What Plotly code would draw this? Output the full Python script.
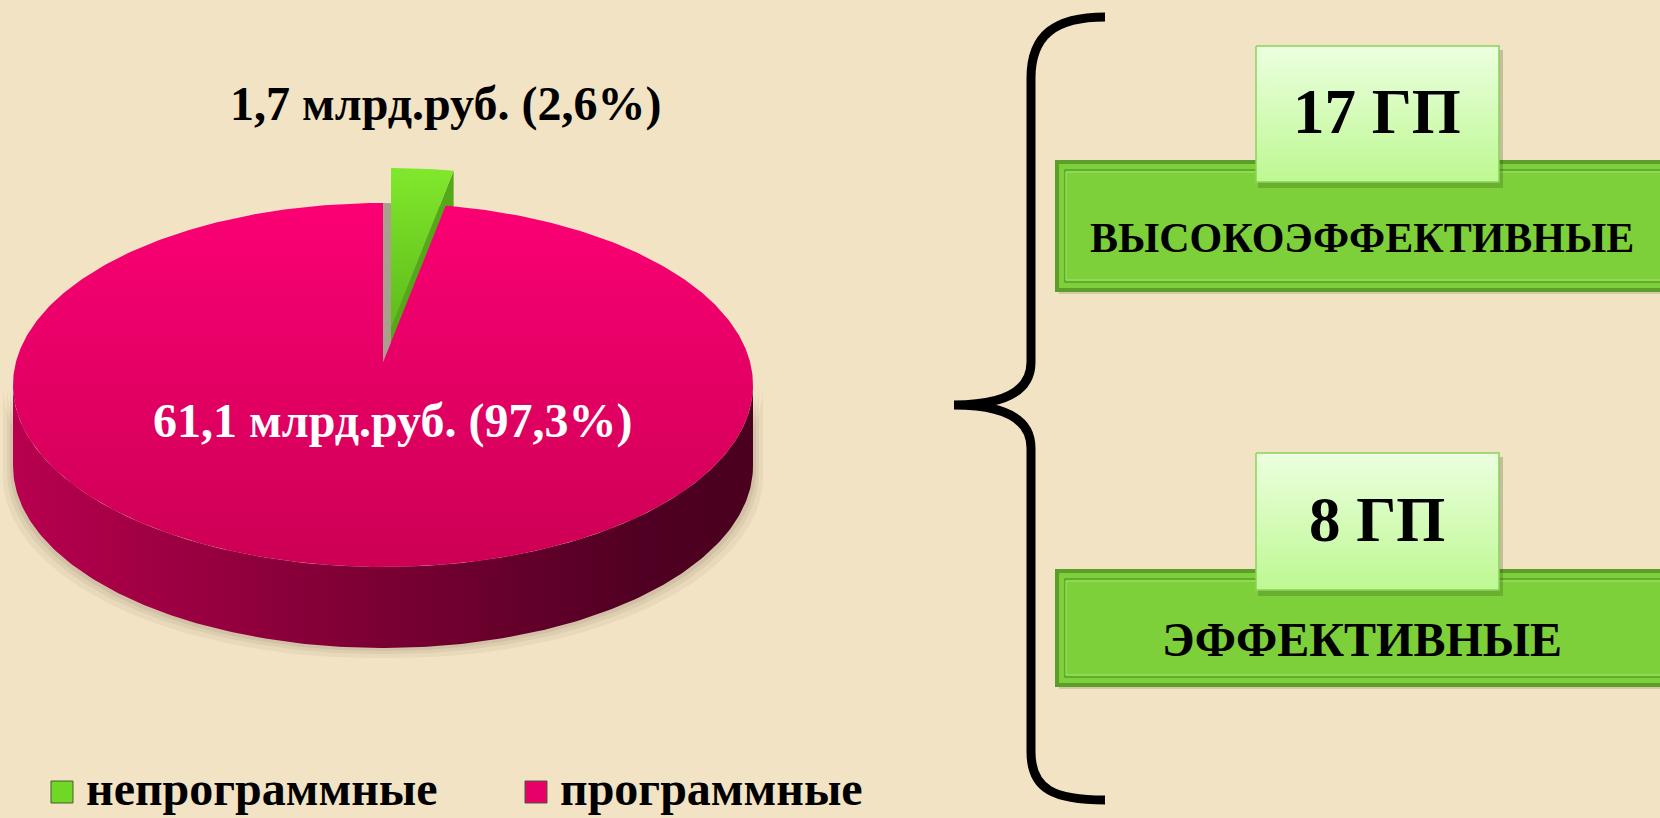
import numpy as np
import plotly.graph_objects as go

# ---------------- data ----------------
categories = ["непрограммные", "программные"]
values_bn = [1.7, 61.1]          # млрд.руб.
shares_pct = [2.6, 97.3]         # %
slice_colors_top = [["#80e82c", "#5fbb1a"], ["#fb0074", "#cc0054"]]
slice_wall_colors = ["#55a817", "#9c0044"]
legend_colors = ["#6fd824", "#e8006a"]

gp_counts = [17, 8]
gp_labels = ["ВЫСОКОЭФФЕКТИВНЫЕ", "ЭФФЕКТИВНЫЕ"]
gp_label_sizes = [42, 48]

# ---------------- geometry (pixels) ----------------
W, H = 1660, 818
CX, CYE = 383, 385      # centre of projected ellipse
A, B = 370, 182         # semi-axes
APEX_Y = 362            # projected pie centre
DEPTH = 81
EXPLODE = [(8, -35), (0, 0)]
LEGEND_X = [51, 525]
LEGEND_Y = 792

FONT = "Liberation Serif"


def rim(theta_deg):
    t = np.radians(theta_deg)
    return CX + A * np.sin(t), CYE - B * np.cos(t)


def vgrad(top, bottom):
    # y axis is reversed: scale position 0 is the bottom of the shape on screen
    return dict(type="vertical", colorscale=[[0, bottom], [1, top]])


fig = go.Figure()

total = sum(values_bn)
angles = np.concatenate([[0], np.cumsum(values_bn) / total * 360.0])

# soft shadow under the pie
for k, op in [(10, 0.05), (6, 0.06), (3, 0.07)]:
    th = np.linspace(90, 270, 200)
    xs, ys = rim(th)
    fig.add_trace(go.Scatter(
        x=list(xs + np.sign(xs - CX) * k) + list((xs + np.sign(xs - CX) * k)[::-1]),
        y=list(ys) + list((ys + DEPTH + k)[::-1]),
        fill="toself", fillcolor="rgba(60,40,20,%.2f)" % op, line=dict(width=0),
        mode="lines", hoverinfo="skip", showlegend=False))

# grey inner gap of the exploded slice
g0, g1 = angles[0], angles[1]
xs, ys = rim(np.linspace(g0, g1, 30))
fig.add_trace(go.Scatter(
    x=[CX] + list(xs) + [CX], y=[APEX_Y] + list(ys) + [APEX_Y],
    fill="toself", fillcolor="#a89f8c", line=dict(width=0),
    mode="lines", hoverinfo="skip", showlegend=False))

# green slice wall and face
dx, dy = EXPLODE[0]
xr, yr = rim(g1)
fig.add_trace(go.Scatter(
    x=[CX + dx, xr + dx, xr + dx, CX + dx, CX + dx],
    y=[APEX_Y + dy, yr + dy, yr + dy + DEPTH, APEX_Y + dy + DEPTH, APEX_Y + dy],
    fill="toself", fillcolor=slice_wall_colors[0], line=dict(width=0),
    mode="lines", hoverinfo="skip", showlegend=False))
xs, ys = rim(np.linspace(g0, g1, 30))
fig.add_trace(go.Scatter(
    x=[CX + dx] + list(xs + dx) + [CX + dx],
    y=[APEX_Y + dy] + list(ys + dy) + [APEX_Y + dy],
    fill="toself", fillgradient=vgrad(*slice_colors_top[0]),
    line=dict(width=0), mode="lines", hoverinfo="skip", showlegend=False))

# pink slice side (front half)
th = np.linspace(90, 270, 200)
xs, ys = rim(th)
fig.add_trace(go.Scatter(
    x=list(xs) + list(xs[::-1]) + [xs[0]],
    y=list(ys) + list((ys + DEPTH)[::-1]) + [ys[0]],
    fill="toself",
    fillgradient=dict(type="horizontal",
                      colorscale=[[0, "#b8004f"], [0.35, "#8c003a"], [0.85, "#500022"], [1, "#4a001f"]]),
    line=dict(width=0), mode="lines", hoverinfo="skip", showlegend=False))

# pink slice top face
p0, p1 = angles[1], angles[2]
xs, ys = rim(np.linspace(p0, p1, 500))
fig.add_trace(go.Scatter(
    x=[CX] + list(xs) + [CX], y=[APEX_Y] + list(ys) + [APEX_Y],
    fill="toself", fillgradient=vgrad(*slice_colors_top[1]),
    line=dict(width=0), mode="lines", hoverinfo="skip", showlegend=False))


def fmt(v):
    return ("%.1f" % v).replace(".", ",")


# data labels
fig.add_annotation(x=445, y=104, xref="x", yref="y", showarrow=False,
                   text="<b>%s млрд.руб. (%s%%)</b>" % (fmt(values_bn[0]), fmt(shares_pct[0])),
                   font=dict(family=FONT, size=48, color="black"))
fig.add_annotation(x=392, y=421, xref="x", yref="y", showarrow=False,
                   text="<b>%s млрд.руб. (%s%%)</b>" % (fmt(values_bn[1]), fmt(shares_pct[1])),
                   font=dict(family=FONT, size=48, color="white"))

# legend (squares + labels)
for name, col, lx in zip(categories, legend_colors, LEGEND_X):
    fig.add_shape(type="rect", xref="x", yref="y", x0=lx, x1=lx + 22,
                  y0=LEGEND_Y - 11, y1=LEGEND_Y + 11,
                  fillcolor=col, line=dict(color="#4a5a30", width=1))
    fig.add_annotation(x=lx + 33, y=H - 1, xref="x", yref="y", showarrow=False,
                       xanchor="left", yanchor="bottom", text="<b>%s</b>" % name,
                       font=dict(family=FONT, size=48, color="black"))

# ---------------- right side: brace and boxes ----------------
fig.add_shape(type="path", xref="x", yref="y",
              path="M1105,17 C1055,17 1031,35 1031,78 L1031,362 C1031,392 1003,405 954,405 "
                   "C1003,405 1031,418 1031,448 L1031,752 C1031,790 1055,800 1105,800",
              line=dict(color="black", width=9))

dark_boxes = [(162, 290), (571, 685)]
light_boxes = [(46, 182), (453, 590)]
for i, ((dy0, dy1), (ly0, ly1)) in enumerate(zip(dark_boxes, light_boxes)):
    fig.add_shape(type="rect", xref="x", yref="y", x0=1059, x1=1720, y0=dy0 + 4, y1=dy1 + 4,
                  fillcolor="rgba(90,70,30,0.18)", line=dict(width=0), layer="below")
    fig.add_shape(type="rect", xref="x", yref="y", x0=1057, x1=1720, y0=dy0, y1=dy1,
                  fillcolor="#7dd03a", line=dict(color="#5b9f2a", width=4), layer="below")
    fig.add_shape(type="rect", xref="x", yref="y", x0=1065, x1=1720, y0=dy0 + 8, y1=dy1 - 8,
                  fillcolor="rgba(0,0,0,0)", line=dict(color="#5aa02a", width=1.5), layer="below")
    fig.add_shape(type="rect", xref="x", yref="y", x0=1066, x1=1720, y0=dy0 + 10, y1=dy1 - 10,
                  fillcolor="rgba(0,0,0,0)", line=dict(color="#a2e26c", width=1), layer="below")
    # shadow of light box
    fig.add_shape(type="rect", xref="x", yref="y", x0=1258, x1=1503, y0=ly0 + 4, y1=ly1 + 6,
                  fillcolor="rgba(40,60,10,0.22)", line=dict(width=0), layer="below")
    fig.add_trace(go.Scatter(
        x=[1256, 1499, 1499, 1256, 1256], y=[ly0, ly0, ly1, ly1, ly0],
        fill="toself", fillgradient=vgrad("#ecffe0", "#bdf891"),
        line=dict(color="#86d35a", width=1.5), mode="lines",
        hoverinfo="skip", showlegend=False))
    fig.add_annotation(x=1377, y=(ly0 + ly1) / 2 - 2, xref="x", yref="y", showarrow=False,
                       text="<b>%d ГП</b>" % gp_counts[i],
                       font=dict(family=FONT, size=63, color="black"))
    fig.add_annotation(x=1362, y=(dy1 + ly1) / 2 + 2, xref="x", yref="y", showarrow=False,
                       text="<b>%s</b>" % gp_labels[i],
                       font=dict(family=FONT, size=gp_label_sizes[i], color="black"))

fig.update_layout(
    width=W, height=H,
    margin=dict(l=0, r=0, t=0, b=0),
    paper_bgcolor="#f2e3c4", plot_bgcolor="#f2e3c4",
    xaxis=dict(range=[0, W], visible=False, fixedrange=True),
    yaxis=dict(range=[H, 0], visible=False, fixedrange=True),
    showlegend=False,
    hovermode=False,
)

fig.write_html("out.html", config={"displayModeBar": False},
               post_script="document.body.style.margin='0';document.body.style.overflow='hidden';")
